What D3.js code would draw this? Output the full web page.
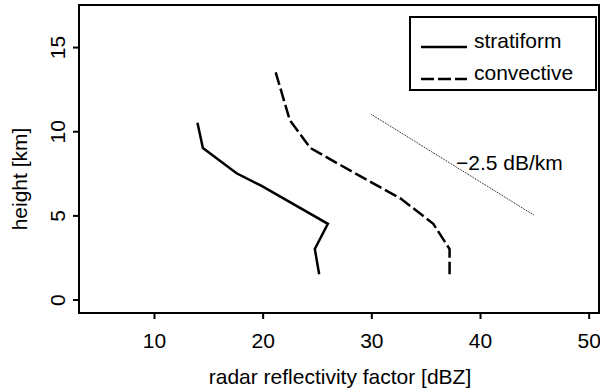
<!DOCTYPE html>
<html>
<head>
<meta charset="utf-8">
<script src="https://cdn.jsdelivr.net/npm/d3@7"></script>
<style>
  body { margin: 0; background: #fff; }
  svg { display: block; font-family: "Liberation Sans", Arial, sans-serif; }
</style>
</head>
<body>
<div id="chart"></div>
<script>
// profiles: height [km] vs reflectivity [dBZ]
var stratHeight = [10.5, 9.0, 7.5, 6.75, 4.5, 3.0, 1.5];
var stratDbz = [14.0, 14.5, 17.6, 19.9, 26.0, 24.8, 25.2];

var convHeight = [13.5, 10.65, 9.0, 7.5, 6.0, 4.5, 3.0, 1.5];
var convDbz = [21.2, 22.5, 24.4, 28.5, 32.7, 35.7, 37.2, 37.2];

// reference slope line -2.5 dB/km
var refHeight = [11, 5];
var refDbz = [30, 45];

var xTicks = [10, 20, 30, 40, 50];
var yTicks = [0, 5, 10, 15];

var width = 600, height = 390;
var margin = { top: 5, right: 1, bottom: 77, left: 79 };

var svg = d3.select("#chart")
  .append("svg")
  .attr("width", width)
  .attr("height", height);

var x = d3.scaleLinear()
  .domain([3.1, 50.95])
  .range([margin.left, width - margin.right]);

var y = d3.scaleLinear()
  .domain([-0.8, 17.5])
  .range([height - margin.bottom, margin.top]);

// axes
var xAxis = svg.append("g")
  .attr("transform", "translate(0," + (height - margin.bottom) + ")")
  .call(d3.axisBottom(x).tickValues(xTicks).tickSize(6).tickFormat(d3.format("d")));

var yAxis = svg.append("g")
  .attr("transform", "translate(" + margin.left + ",0)")
  .call(d3.axisLeft(y).tickValues(yTicks).tickSize(6).tickFormat(d3.format("d")));

[xAxis, yAxis].forEach(function (g) {
  g.select(".domain").remove();
  g.selectAll(".tick line").attr("stroke", "#000").attr("stroke-width", 2);
  g.selectAll(".tick text").attr("fill", "#000").attr("font-size", 21)
    .attr("font-family", "Liberation Sans, Arial, sans-serif");
});

xAxis.selectAll(".tick text")
  .attr("y", 35)
  .attr("dy", 0);

// rotate y tick labels (R style)
yAxis.selectAll(".tick text")
  .attr("transform", "rotate(-90)")
  .attr("x", 0)
  .attr("y", -14)
  .attr("dy", 0)
  .attr("text-anchor", "middle");

// plot box
svg.append("rect")
  .attr("x", margin.left)
  .attr("y", margin.top)
  .attr("width", width - margin.left - margin.right)
  .attr("height", height - margin.top - margin.bottom)
  .attr("fill", "none")
  .attr("stroke", "#000")
  .attr("stroke-width", 2);

// axis titles
svg.append("text")
  .attr("x", 340)
  .attr("y", 384)
  .attr("text-anchor", "middle")
  .attr("font-size", 21)
  .text("radar reflectivity factor [dBZ]");

svg.append("text")
  .attr("transform", "translate(27,179) rotate(-90)")
  .attr("text-anchor", "middle")
  .attr("font-size", 21)
  .text("height [km]");

var line = d3.line()
  .x(function (d) { return x(d[0]); })
  .y(function (d) { return y(d[1]); });

svg.append("path")
  .datum(d3.zip(stratDbz, stratHeight))
  .attr("fill", "none")
  .attr("stroke", "#000")
  .attr("stroke-width", 2.5)
  .attr("d", line);

svg.append("path")
  .datum(d3.zip(convDbz, convHeight))
  .attr("fill", "none")
  .attr("stroke", "#000")
  .attr("stroke-width", 2.5)
  .attr("stroke-dasharray", "13,4")
  .attr("d", line);

svg.append("path")
  .datum(d3.zip(refDbz, refHeight))
  .attr("fill", "none")
  .attr("stroke", "#000")
  .attr("stroke-width", 1)
  .attr("stroke-dasharray", "1,1")
  .attr("d", line);

svg.append("text")
  .attr("x", 456)
  .attr("y", 170)
  .attr("font-size", 21)
  .text("\u22122.5 dB/km");

// legend
var legend = svg.append("g");
legend.append("rect")
  .attr("x", 410)
  .attr("y", 17)
  .attr("width", 186)
  .attr("height", 73)
  .attr("fill", "#fff")
  .attr("stroke", "#000")
  .attr("stroke-width", 2);

var legendItems = ["stratiform", "convective"];
var legendDash = [null, "13,4"];
legendItems.forEach(function (name, i) {
  var yy = 47 + i * 32;
  legend.append("line")
    .attr("x1", 421).attr("x2", 467)
    .attr("y1", yy).attr("y2", yy)
    .attr("stroke", "#000")
    .attr("stroke-width", 2.5)
    .attr("stroke-dasharray", legendDash[i]);
  legend.append("text")
    .attr("x", 474)
    .attr("y", yy + 1)
    .attr("font-size", 21)
    .text(name);
});
</script>
</body>
</html>
